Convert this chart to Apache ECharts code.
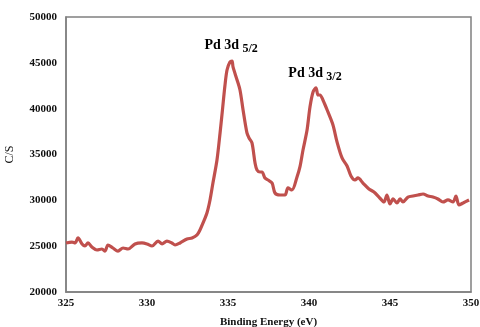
<!DOCTYPE html>
<html>
<head>
<meta charset="utf-8">
<script src="https://cdn.jsdelivr.net/npm/echarts@6/dist/echarts.min.js"></script>
<style>
  html, body { margin: 0; padding: 0; background: #fff; }
  #xps { width: 480px; height: 327px; }
</style>
</head>
<body>
<div id="xps"></div>
<script>
// binding energy (eV) and counts per second
var energy = [325.0, 325.37, 325.56, 325.74, 325.99, 326.17, 326.36, 326.6, 326.91, 327.22,
  327.41, 327.59, 327.9, 328.21, 328.52, 328.83, 329.26, 329.69, 330.0, 330.31,
  330.68, 330.93, 331.23, 331.54, 331.73, 332.04, 332.47, 332.78, 333.09, 333.27,
  333.46, 333.7, 333.89, 334.07, 334.32, 334.51, 334.66, 334.81, 334.94,
  335.12, 335.25, 335.31, 335.56, 335.74, 335.93, 336.17, 336.3, 336.48, 336.67,
  336.79, 336.98, 337.1, 337.28, 337.47, 337.72, 337.9, 338.21, 338.52, 338.7,
  338.95, 339.26, 339.44, 339.63, 339.88, 340.06, 340.25, 340.43, 340.56, 340.68,
  340.86, 341.17, 341.48, 341.73, 342.04, 342.35, 342.59, 342.84, 343.02, 343.33,
  343.7, 344.01, 344.32, 344.63, 344.81, 345.0, 345.19, 345.43, 345.62, 345.8,
  346.11, 346.42, 346.73, 347.04, 347.35, 347.65, 347.96, 348.27, 348.58, 348.89,
  349.07, 349.26, 349.51, 349.88];
var counts = [25350, 25450, 25350, 25900, 25240, 25020, 25350, 24900, 24580, 24690,
  24470, 25130, 24800, 24470, 24800, 24690, 25240, 25350, 25240, 25020,
  25560, 25240, 25560, 25350, 25130, 25350, 25780, 25890, 26220, 26760,
  27530, 28620, 30040, 31890, 34400, 37350, 39900, 42500, 44220,
  45090, 45200, 44550, 43130, 42040, 39860, 37350, 36800, 36260, 34070,
  33310, 33090, 33090, 32440, 32220, 31890, 30800, 30580, 30580, 31350,
  31130, 32550, 33640, 35490, 37670, 40180, 41820, 42260, 41490, 41490,
  40950, 39640, 38220, 36370, 34620, 33750, 32660, 32220, 32440, 31890,
  31240, 30910, 30360, 29820, 30580, 29600, 30150, 29710, 30150, 29820,
  30360, 30470, 30580, 30690, 30470, 30360, 30150, 29820, 30040, 29820,
  30470, 29490, 29710, 30040];

var peakNames = ['5/2', '3/2'];
var peakPos = [[335.19, 46950], [340.37, 43890]];

var serif = 'Liberation Serif';

function drawXps() {
  var dom = document.getElementById('xps');
  var myChart = echarts.init(dom);
  var pts = [];
  for (var i = 0; i < energy.length; i++) {
    pts.push([energy[i], counts[i]]);
  }
  var marks = [];
  for (var j = 0; j < peakNames.length; j++) {
    marks.push({
      coord: peakPos[j],
      label: { formatter: '{a|Pd 3d} {b|' + peakNames[j] + '}' }
    });
  }
  var option = {
    animation: false,
    grid: {
      left: 66, right: 9, top: 17, bottom: 35,
      outerBoundsMode: 'none', containLabel: false,
      show: true, borderColor: '#808080', borderWidth: 1.5
    },
    xAxis: {
      type: 'value',
      min: 325, max: 350, interval: 5,
      name: 'Binding Energy (eV)',
      nameLocation: 'middle',
      nameGap: 25,
      nameTextStyle: { fontFamily: serif, fontWeight: 'bold', fontSize: 11, color: '#111' },
      axisLine: { show: true, lineStyle: { color: '#808080', width: 1.5 } },
      axisTick: { show: false },
      splitLine: { show: false },
      axisLabel: { fontFamily: serif, fontWeight: 'bold', fontSize: 11, color: '#111', margin: 6 }
    },
    yAxis: {
      type: 'value',
      min: 20000, max: 50000, interval: 5000,
      name: 'C/S',
      nameLocation: 'middle',
      nameGap: 50,
      nameRotate: 90,
      nameTextStyle: { fontFamily: serif, fontSize: 12, color: '#111' },
      axisLine: { show: true, lineStyle: { color: '#808080', width: 1.5 } },
      axisTick: { show: false },
      splitLine: { show: false },
      axisLabel: {
        fontFamily: serif, fontWeight: 'bold', fontSize: 11, color: '#111', margin: 9,
        formatter: function (v) { return String(v); }
      }
    },
    series: [{
      type: 'line',
      data: pts,
      showSymbol: false,
      smooth: 0.3,
      lineStyle: { color: '#c0504d', width: 3.2 },
      markPoint: {
        symbol: 'circle',
        symbolSize: 0,
        label: {
          show: true,
          position: 'inside',
          rich: {
            a: { fontFamily: serif, fontWeight: 'bold', fontSize: 14, color: '#000' },
            b: { fontFamily: serif, fontWeight: 'bold', fontSize: 12, color: '#000', padding: [7, 0, 0, 0] }
          }
        },
        data: marks
      }
    }]
  };
  myChart.setOption(option);
}
drawXps();
</script>
</body>
</html>
